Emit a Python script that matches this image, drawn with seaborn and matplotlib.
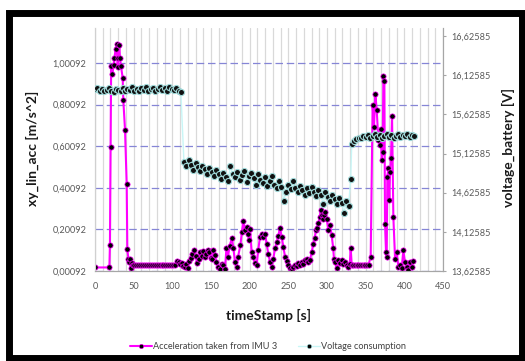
import matplotlib
matplotlib.use("Agg")
import matplotlib.pyplot as plt
from matplotlib.lines import Line2D
from matplotlib.patches import Rectangle
from matplotlib.ticker import MultipleLocator, FixedLocator, FuncFormatter
import seaborn as sns
import pandas as pd

# ---- acceleration from IMU 3 (left axis) ----
acc_time = [
    0, 18.6, 19.3, 20.1, 20.9, 22.5, 24.0, 25.0, 26.7, 28.0, 29.2, 30.2, 31.5, 32.3,
    33.6, 35.8, 36.6, 38.8, 41.0, 41.8, 43.1, 44.0, 45.2, 46.1, 47.3, 48.5,
    51, 53.5, 56, 58.5, 61, 63.5, 66, 68.5, 71, 73.5, 76, 78.5, 81, 83.5, 86, 88.5,
    91, 93.5, 96, 98.5, 101, 103.5,
    106.5, 108, 110, 112, 114, 116, 118, 120, 122, 124, 126, 128, 130, 132, 134, 136,
    138, 140, 142, 144, 146, 148, 150, 151.5, 153, 155, 157, 159, 162, 164, 166, 168,
    170, 172, 174, 177, 179, 181, 183, 185, 188, 190, 191.8, 194, 196, 198, 199,
    200.4, 202.6, 204.7, 207, 209, 211, 213.4, 215.5, 217.7, 220, 222, 224, 226.3,
    228.5, 230.6, 232.8, 235, 237, 239.2, 241.4, 243.5, 245.7, 248, 250, 252, 254.3,
    256.5, 258.6, 261, 263, 265, 267.2, 269.5, 271.6, 273.7, 276, 278, 280, 282.3,
    284, 285.8, 287.5, 289, 290.5, 292, 293.2, 294.4, 296, 297.4, 299.6, 301.7,
    304, 306, 308, 309, 310.4, 312.5, 314.7, 317, 319, 321, 323.3, 325.5, 327.6,
    329.5, 330.6, 332, 334, 336.2, 338.4, 340.6, 342.8, 345, 347.2, 349.4, 351.6,
    353.8, 356.5, 359, 360.8, 362.5, 364.3, 366.4, 368.6, 369.4, 370.7, 372, 372.9,
    374.2, 375, 376.3, 377.2, 378, 379.3, 380.6, 381.5, 382.8, 384.1, 385.8, 388,
    390.1, 392.3, 394.4, 396.6, 398.7, 400.9, 403, 405.2, 407.4, 409.5, 411.7,
]
acc_value = [
    0.018, 0.018, 0.125, 0.598, 0.987, 0.947, 0.990, 1.023, 1.067, 1.094, 0.982, 1.023, 1.087, 1.023,
    0.985, 0.930, 0.822, 0.681, 0.417, 0.106, 0.061, 0.042, 0.061, 0.013, 0.040, 0.028,
    0.028, 0.028, 0.028, 0.028, 0.028, 0.028, 0.028, 0.028, 0.028, 0.028, 0.028, 0.028, 0.028, 0.028, 0.028, 0.028,
    0.028, 0.028, 0.028, 0.028, 0.028, 0.030,
    0.050, 0.045, 0.035, 0.040, 0.025, 0.020, 0.035, 0.015, 0.050, 0.065, 0.085, 0.100, 0.075, 0.040, 0.060, 0.090,
    0.075, 0.095, 0.070, 0.085, 0.100, 0.090, 0.065, 0.060, 0.100, 0.077, 0.045, 0.020, 0.010, 0.035, 0.030, 0.010,
    0.110, 0.070, 0.120, 0.160, 0.110, 0.045, 0.020, 0.070, 0.125, 0.190, 0.242, 0.197, 0.213, 0.180, 0.150,
    0.205, 0.093, 0.070, 0.037, 0.030, 0.100, 0.165, 0.180, 0.165, 0.180, 0.130, 0.085, 0.045,
    0.020, 0.060, 0.110, 0.140, 0.170, 0.208, 0.165, 0.117, 0.070, 0.050, 0.030, 0.015, 0.010,
    0.020, 0.030, 0.025, 0.037, 0.030, 0.045, 0.035, 0.053, 0.060, 0.045, 0.053, 0.090, 0.130,
    0.160, 0.197, 0.210, 0.230, 0.260, 0.293, 0.270, 0.253, 0.270, 0.285, 0.253, 0.197,
    0.220, 0.173, 0.112, 0.060, 0.042, 0.016, 0.053, 0.040, 0.053, 0.035, 0.042, 0.029, 0.021,
    0.035, 0.112, 0.029, 0.032, 0.032, 0.032, 0.032, 0.032, 0.032, 0.032, 0.032, 0.032,
    0.032, 0.070, 0.798, 0.694, 0.854, 0.774, 0.630, 0.606, 0.683, 0.534, 0.574, 0.938,
    0.914, 0.229, 0.093, 0.069, 0.454, 0.494, 0.341, 0.478, 0.542, 0.747, 0.261, 0.061,
    0.093, 0.021, 0.032, 0.013, 0.101, 0.042, 0.021, 0.005, 0.045, 0.021, 0.048,
]

# ---- battery voltage (right axis) ----
volt_time = [
    0, 3, 6, 9, 12, 15, 18, 21, 24, 27, 30, 33, 36, 39, 42, 45, 48, 51, 54, 57,
    60, 63, 66, 69, 72, 75, 78, 81, 84, 87, 90, 93, 96, 99, 102, 105, 108, 111,
    115, 118, 121, 124, 127, 130, 133, 136, 139, 142, 145, 148, 151, 154, 157, 160,
    163, 166, 169, 172, 175, 178, 181, 184, 187, 190, 193, 196, 199, 202, 205, 208,
    211, 214, 217, 220, 223, 226, 229, 232, 235, 238, 241, 244, 247, 250, 253, 256,
    259, 262, 265, 268, 271, 274, 277, 280, 283, 286, 289, 292, 295, 298, 301, 304,
    307, 310, 313, 316, 319, 322, 325, 328, 330.6,
    332, 335, 338, 341, 344, 347, 350, 353, 356, 359, 362, 365, 368, 371, 374, 377,
    380, 383, 386, 389, 392, 395, 398, 401, 404, 407, 410, 412,
]
volt_value = [
    15.95, 15.96, 15.93, 15.95, 15.92, 15.94, 15.96, 15.93, 15.91, 15.95, 15.94, 15.92, 15.96, 15.93, 15.95, 15.94, 15.97, 15.93, 15.95, 15.92,
    15.96, 15.94, 15.97, 15.93, 15.95, 15.96, 15.92, 15.95, 15.97, 15.94, 15.96, 15.93, 15.97, 15.95, 15.94, 15.96, 15.93, 15.91,
    15.02, 14.96, 15.04, 14.98, 14.92, 15.00, 14.95, 14.90, 14.97, 14.93, 14.87, 14.94, 14.89, 14.84, 14.91, 14.86,
    14.80, 14.88, 14.83, 14.78, 14.96, 14.87, 14.82, 14.89, 14.79, 14.85, 14.90, 14.76, 14.84, 14.88, 14.81, 14.73,
    14.86, 14.79, 14.75, 14.82, 14.71, 14.77, 14.84, 14.73, 14.68, 14.78, 14.70, 14.52, 14.64, 14.72, 14.67, 14.77,
    14.69, 14.63, 14.71, 14.66, 14.60, 14.68, 14.62, 14.70, 14.64, 14.58, 14.66, 14.60, 14.48, 14.63, 14.57, 14.52,
    14.60, 14.55, 14.48, 14.56, 14.50, 14.36, 14.52, 14.46, 14.80,
    15.25, 15.29, 15.31, 15.33, 15.32, 15.35, 15.34, 15.36, 15.33, 15.35, 15.37, 15.34, 15.36, 15.33, 15.35, 15.37,
    15.34, 15.36, 15.33, 15.35, 15.37, 15.34, 15.36, 15.35, 15.37, 15.34, 15.36, 15.35,
]

acc_ticks = [0.00092, 0.20092, 0.40092, 0.60092, 0.80092, 1.00092]
volt_ticks = [13.62585, 14.12585, 14.62585, 15.12585, 15.62585, 16.12585, 16.62585]
time_ticks = [0, 50, 100, 150, 200, 250, 300, 350, 400, 450]

acc_df = pd.DataFrame({"timeStamp": acc_time, "acc": acc_value})
volt_df = pd.DataFrame({"timeStamp": volt_time, "volt": volt_value})

sns.set_style("white")
plt.rcParams["font.family"] = ["Lato", "DejaVu Sans"]

W, H = 525, 361
fig = plt.figure(figsize=(W / 100, H / 100), dpi=100)
ax = fig.add_axes([95 / W, 90 / H, 348 / W, 243.3 / H])
ax2 = ax.twinx()

tick_color = "#595959"
acc_color = "#ff00ff"
volt_color = "#c8f6f6"
volt_edge = "#9fd8d8"

sns.lineplot(data=acc_df, x="timeStamp", y="acc", ax=ax, color=acc_color,
             linewidth=1.5, marker="o", markersize=3.8, markerfacecolor="black",
             markeredgecolor=acc_color, markeredgewidth=0.5,
             estimator=None, sort=False, legend=False, zorder=3)
sns.lineplot(data=volt_df, x="timeStamp", y="volt", ax=ax2, color=volt_color,
             linewidth=1.0, marker="o", markersize=4.4, markerfacecolor="#111111",
             markeredgecolor=volt_edge, markeredgewidth=0.8,
             estimator=None, sort=False, legend=False, zorder=3)

ax.set_xlim(0, 450)
ax.set_ylim(0.00092, 1.1706)
ax2.set_ylim(13.62585, 16.732)

ax.xaxis.set_major_locator(FixedLocator(time_ticks))
ax.xaxis.set_minor_locator(MultipleLocator(10))
ax.yaxis.set_major_locator(FixedLocator(acc_ticks))
ax2.yaxis.set_major_locator(FixedLocator(volt_ticks))

comma = FuncFormatter(lambda v, p: f"{v:.5f}".replace(".", ","))
ax.yaxis.set_major_formatter(comma)
ax2.yaxis.set_major_formatter(comma)

ax.grid(False)
ax2.grid(False)
ax.grid(axis="x", which="both", color="#d9d9d9", linewidth=0.9)
ax.grid(axis="y", which="major", color="#8585d6", linewidth=0.9, linestyle=(0, (6, 3)))
ax.set_axisbelow(True)

for s in ["top"]:
    ax.spines[s].set_visible(False)
    ax2.spines[s].set_visible(False)
for a in (ax, ax2):
    a.spines["left"].set_color("#d0d0d0")
    a.spines["bottom"].set_color("#a6a6a6")
    a.spines["right"].set_color("#a6a6a6")
    for sp in a.spines.values():
        sp.set_linewidth(0.8)

ax.tick_params(axis="x", which="both", length=0, pad=8, labelsize=6.6, colors=tick_color)
ax.tick_params(axis="y", length=0, pad=6, labelsize=6.6, colors=tick_color)
ax2.tick_params(axis="y", length=2.5, width=0.8, color="#a6a6a6", pad=3.5,
                labelsize=6.6, colors=tick_color)
ax2.tick_params(axis="y", which="major", color="#a6a6a6")

ax.set_xlabel("timeStamp [s]", fontsize=10, fontweight="bold", color="#1a1a1a")
ax.set_ylabel("xy_lin_acc [m/s^2]", fontsize=10, fontweight="bold", color="#1a1a1a",
              va="center", ha="center")
ax2.set_ylabel("voltage_battery [V]", fontsize=10, fontweight="bold", color="#1a1a1a",
               va="center", ha="center", rotation=90)
ax.xaxis.set_label_coords(0.4986, -0.156)
ax.yaxis.set_label_coords(-0.181, 0.506)
ax2.yaxis.set_label_coords(1.187, 0.506)

handles = [
    Line2D([], [], color=acc_color, linewidth=1.5, marker="o", markersize=3.2,
           markerfacecolor="black", markeredgecolor=acc_color, markeredgewidth=0.4),
    Line2D([], [], color=volt_color, linewidth=1.0, marker="o", markersize=3.2,
           markerfacecolor="black", markeredgecolor=volt_edge, markeredgewidth=0.4),
]
fig.legend(handles, ["Acceleration taken from IMU 3", "Voltage consumption"],
           loc="center", bbox_to_anchor=(268 / W, 14.3 / H), ncol=2, frameon=False,
           fontsize=6.6, labelcolor="#404040", handlelength=2.4, handletextpad=0.15,
           columnspacing=2.2, borderpad=0)

# thick black frame around the whole chart
fig.patches.append(Rectangle((8.5 / W, 3.5 / H), 513 / W, 344.2 / H,
                             transform=fig.transFigure, fill=False,
                             edgecolor="black", linewidth=5.0, zorder=10))

fig.savefig("out.png", dpi=100)
